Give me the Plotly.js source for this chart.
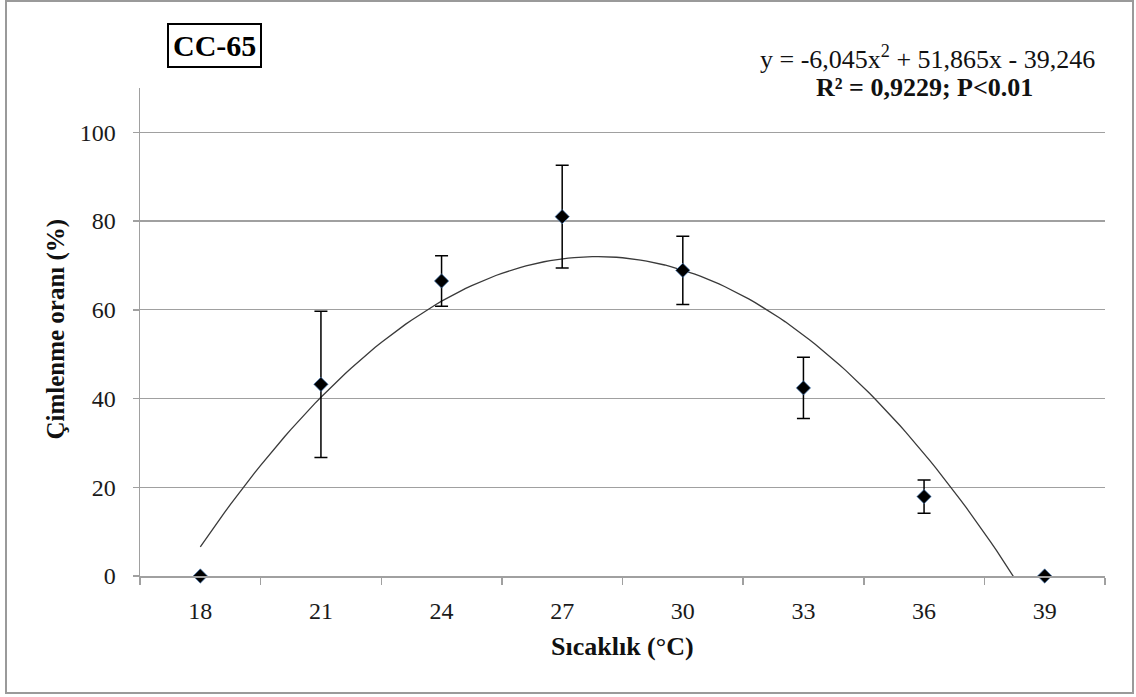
<!DOCTYPE html>
<html>
<head>
<meta charset="utf-8">
<script src="https://cdn.plot.ly/plotly-3.0.1.min.js"></script>
<style>
  html, body { margin: 0; padding: 0; background: #ffffff; }
  #wrap { position: relative; width: 1136px; height: 697px; }
  #chart { width: 1136px; height: 697px; }
  #frame {
    position: absolute; left: 5px; top: 0px; width: 1125px; height: 690px;
    border: 2px solid #9a9a9a; pointer-events: none;
  }
</style>
</head>
<body>
<div id="wrap">
  <div id="chart"></div>
  <div id="frame"></div>
</div>
<script>
// Germination rate of CC-65 by temperature
const temperatures = ['18', '21', '24', '27', '30', '33', '36', '39'];
const categoryIndex = [1, 2, 3, 4, 5, 6, 7, 8];
const germination = [0, 43.2, 66.5, 81.0, 68.9, 42.4, 17.9, 0];
const germinationErr = [0, 16.5, 5.7, 11.6, 7.7, 6.9, 3.75, 0];

// Quadratic trend: y = a*x^2 + b*x + c (x = category index)
const trendCoef = [-6.045, 51.865, -39.246];

const trendX = [];
const trendY = [];
for (let i = 0; i <= 140; i++) {
  const x = 1 + i * 0.05;
  trendX.push(x);
  trendY.push(trendCoef[0] * x * x + trendCoef[1] * x + trendCoef[2]);
}

// tick marks sit between categories
const boundaries = [];
for (let i = 0; i <= temperatures.length; i++) boundaries.push(i + 0.5);

const serif = 'Liberation Serif, Times New Roman, serif';
const gridGray = '#a0a0a0';

const traces = [
  {
    x: trendX, y: trendY, type: 'scatter', mode: 'lines',
    line: { color: '#3a3a3a', width: 1.3 },
    xaxis: 'x', yaxis: 'y', hoverinfo: 'skip', showlegend: false
  },
  {
    x: categoryIndex, y: germination, type: 'scatter', mode: 'markers',
    marker: { symbol: 'diamond', size: 11, color: '#000000',
              line: { color: 'rgba(79,129,189,0.7)', width: 1 } },
    error_y: { type: 'data', array: germinationErr, visible: true,
               color: '#000000', thickness: 1.5, width: 6.5 },
    xaxis: 'x2', yaxis: 'y', showlegend: false, cliponaxis: false
  }
];

const layout = {
  width: 1136, height: 697,
  margin: { l: 140, r: 31, t: 88, b: 121 },
  paper_bgcolor: '#ffffff', plot_bgcolor: '#ffffff',
  font: { family: serif, size: 24, color: '#1a1a1a' },
  showlegend: false,
  xaxis: {
    range: [0.5, 8.5], tickvals: boundaries, showticklabels: false,
    ticks: 'outside', ticklen: 7, tickwidth: 1.5, tickcolor: gridGray,
    showline: true, linecolor: gridGray, linewidth: 1.5,
    showgrid: false, zeroline: false, fixedrange: true
  },
  xaxis2: {
    overlaying: 'x', anchor: 'y', side: 'bottom',
    range: [0.5, 8.5], tickvals: categoryIndex, ticktext: temperatures,
    ticks: '', showline: false, showgrid: false, zeroline: false,
    ticklabelstandoff: 18,
    tickfont: { family: serif, size: 24, color: '#1a1a1a' }, fixedrange: true
  },
  yaxis: {
    range: [0, 110], tickvals: [0, 20, 40, 60, 80, 100],
    ticks: 'outside', ticklen: 6, tickwidth: 1.5, tickcolor: gridGray,
    showline: true, linecolor: gridGray, linewidth: 1.5,
    showgrid: true, gridcolor: gridGray, gridwidth: 1.3,
    zeroline: false, ticklabelstandoff: 12,
    tickfont: { family: serif, size: 24, color: '#1a1a1a' }, fixedrange: true
  },
  annotations: [
    {
      text: '<b>CC-65</b>', xref: 'paper', yref: 'paper', x: 0.0767, y: 1.088,
      xanchor: 'center', yanchor: 'middle', showarrow: false,
      font: { family: serif, size: 30, color: '#000000' },
      bordercolor: '#000000', borderwidth: 2, borderpad: 4, bgcolor: '#ffffff'
    },
    {
      text: 'y = -6,045x<sup>2</sup> + 51,865x - 39,246', xref: 'paper', yref: 'paper',
      x: 0.8156, y: 1.0635, xanchor: 'center', yanchor: 'middle', showarrow: false,
      font: { family: serif, size: 26, color: '#111111' }
    },
    {
      text: '<b>R² = 0,9229; P<0.01</b>', xref: 'paper', yref: 'paper',
      x: 0.8130, y: 1.002, xanchor: 'center', yanchor: 'middle', showarrow: false,
      font: { family: serif, size: 26, color: '#111111' }
    },
    {
      text: '<b>Çimlenme oranı (%)</b>', xref: 'paper', yref: 'paper',
      x: -0.087, y: 0.505, xanchor: 'center', yanchor: 'middle', textangle: -90,
      showarrow: false, font: { family: serif, size: 25, color: '#111111' }
    },
    {
      text: '<b>Sıcaklık (°C)</b>', xref: 'paper', yref: 'paper',
      x: 0.5, y: -0.145, xanchor: 'center', yanchor: 'middle',
      showarrow: false, font: { family: serif, size: 26, color: '#111111' }
    }
  ]
};

Plotly.newPlot('chart', traces, layout, { staticPlot: true, displayModeBar: false });
</script>
</body>
</html>
